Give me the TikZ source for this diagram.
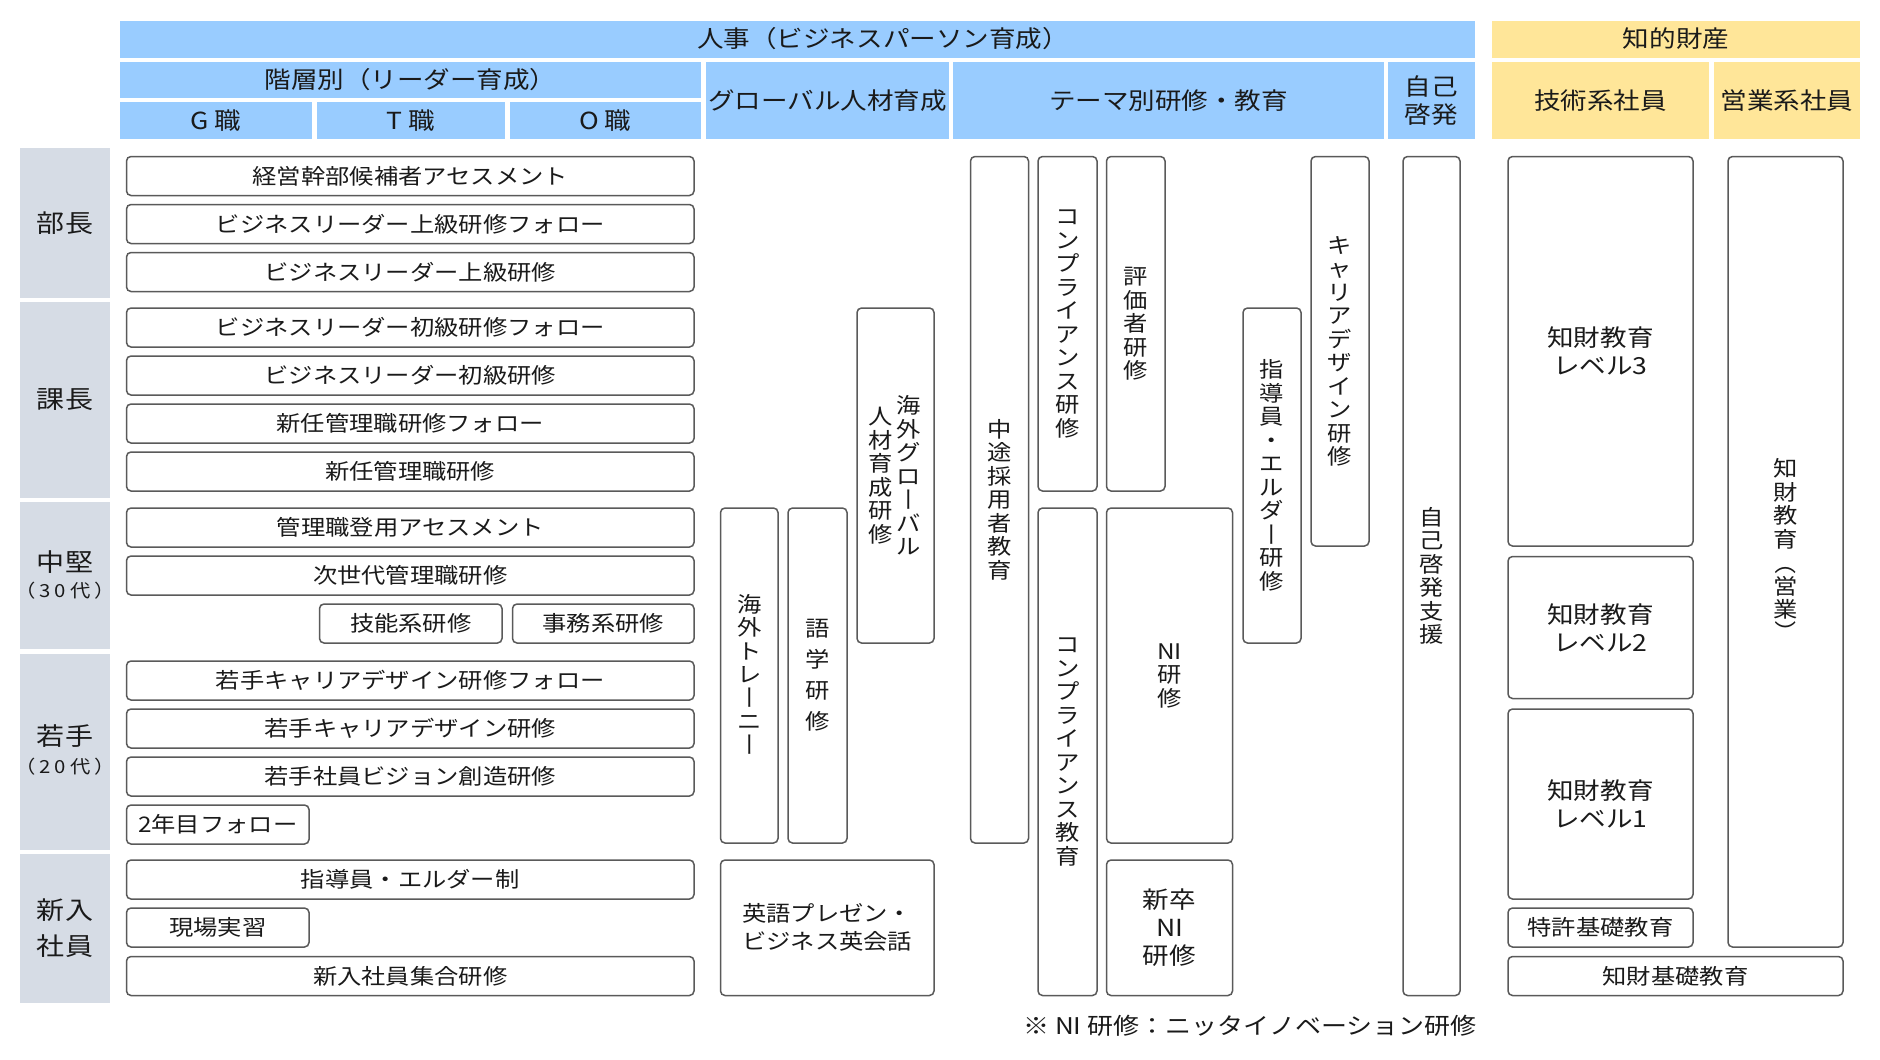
\documentclass[tikz,border=0pt]{standalone}
\usepackage{fontspec}
\setmainfont{Noto Sans CJK JP}[FakeStretch=1.13]
\definecolor{hbc}{HTML}{99CCFF}
\definecolor{hyc}{HTML}{FFE699}
\definecolor{rkc}{HTML}{D6DCE5}
\definecolor{bdc}{HTML}{5A5A5A}
\definecolor{txc}{HTML}{1A1A1A}
\newcommand\fbx{\fontsize{21.5pt}{28pt}\selectfont}
\newcommand\fhd{\fontsize{23.5pt}{28pt}\selectfont}
\newcommand\frk{\fontsize{24.8pt}{36pt}\selectfont}
\newcommand\fsm{\fontsize{18pt}{22pt}\selectfont}
\newcommand\fnt{\fontsize{23pt}{26pt}\selectfont}
\newcommand\fvt{\fontsize{21.5pt}{23.5pt}\selectfont\lineskiplimit=-50pt\lineskip=0pt}
\newcommand\fvtw{\fontsize{21.5pt}{31pt}\selectfont\lineskiplimit=-50pt\lineskip=0pt}
\newcommand\vb{\rotatebox[origin=c]{-90}{\vphantom{漢}ー}}
\newcommand\vlp{\rotatebox[origin=c]{-90}{\vphantom{漢}（}}
\newcommand\vrp{\rotatebox[origin=c]{-90}{\vphantom{漢}）}}
\newcommand\rbx[7]{\node[#2,minimum width={#5-#3},minimum height={#6-#4}] (#1) at ({(#3+#5)/2},{(#4+#6)/2}) {#7};}
\begin{document}
\begin{tikzpicture}[x=1pt,y=-1pt,
  bx/.style={draw=bdc,line width=1.5pt,rounded corners=4.5pt,fill=white,inner sep=0pt,outer sep=0pt,font=\fbx,text=txc,align=center},
  hdb/.style={fill=hbc,inner sep=0pt,outer sep=0pt,font=\fhd,text=txc,align=center},
  hdy/.style={fill=hyc,inner sep=0pt,outer sep=0pt,font=\fhd,text=txc,align=center},
  rk/.style={fill=rkc,inner sep=0pt,outer sep=0pt,font=\frk,text=txc,align=center},
  vt/.style={font=\fvt,align=center,text=txc},
  lbl/.style={inner sep=0pt,text=txc,align=center}]
\useasboundingbox[fill=white] (0,0) rectangle (1880,1060);
% headers
\rbx{hr}{hdb}{120}{20.5}{1475}{57.5}{}
\node[lbl,font=\fhd] (hrt) at (883,39) {人事（ビジネスパーソン育成）};
\rbx{ip}{hdy}{1492}{20.5}{1860}{57.5}{知的財産}
\rbx{lv}{hdb}{120}{62}{701}{98}{階層別（リーダー育成）}
\rbx{g}{hdb}{120}{102}{312}{139}{G 職}
\rbx{t}{hdb}{316.5}{102}{505}{139}{T 職}
\rbx{o}{hdb}{509.5}{102}{701}{139}{O 職}
\rbx{gl}{hdb}{706}{62}{949}{139}{グローバル人材育成}
\rbx{th}{hdb}{953}{62}{1384}{139}{テーマ別研修・教育}
\rbx{sd}{hdb}{1388}{62}{1475}{139}{自己\\啓発}
\rbx{te}{hdy}{1492}{62}{1709}{139}{技術系社員}
\rbx{sa}{hdy}{1714}{62}{1860}{139}{営業系社員}
% rank labels
\rbx{r1}{rk}{20}{148}{110}{297.5}{部長}
\rbx{r2}{rk}{20}{302}{110}{497.5}{課長}
\rbx{r3}{rk}{20}{502}{110}{649}{}
\node[lbl,font=\frk] (r3a) at (65,562) {中堅};
\node[lbl,font=\fsm] (r3b) at (65,591) {（\kern4pt 3\kern4pt 0\kern4pt 代\kern4pt ）};
\rbx{r4}{rk}{20}{654}{110}{849.5}{}
\node[lbl,font=\frk] (r4a) at (65,736) {若手};
\node[lbl,font=\fsm] (r4b) at (65,767) {（\kern4pt 2\kern4pt 0\kern4pt 代\kern4pt ）};
\rbx{r5}{rk}{20}{854}{110}{1003}{新入\\社員}
% hierarchy boxes
\rbx{a1}{bx}{126.5}{156.5}{694}{195.5}{経営幹部候補者アセスメント}
\rbx{a2}{bx}{126.5}{204.5}{694}{243.5}{ビジネスリーダー上級研修フォロー}
\rbx{a3}{bx}{126.5}{252.5}{694}{291.5}{ビジネスリーダー上級研修}
\rbx{a4}{bx}{126.5}{308}{694}{347}{ビジネスリーダー初級研修フォロー}
\rbx{a5}{bx}{126.5}{356}{694}{395}{ビジネスリーダー初級研修}
\rbx{a6}{bx}{126.5}{404}{694}{443}{新任管理職研修フォロー}
\rbx{a7}{bx}{126.5}{452}{694}{491}{新任管理職研修}
\rbx{a8}{bx}{126.5}{508}{694}{547}{管理職登用アセスメント}
\rbx{a9}{bx}{126.5}{556}{694}{595}{次世代管理職研修}
\rbx{a10}{bx}{319.5}{604}{502}{643}{技能系研修}
\rbx{a11}{bx}{512.5}{604}{694}{643}{事務系研修}
\rbx{b1}{bx}{126.5}{661}{694}{700}{若手キャリアデザイン研修フォロー}
\rbx{b2}{bx}{126.5}{709}{694}{748}{若手キャリアデザイン研修}
\rbx{b3}{bx}{126.5}{757}{694}{796}{若手社員ビジョン創造研修}
\rbx{b4}{bx}{126.5}{805}{309}{844}{2年目フォロー}
\rbx{c1}{bx}{126.5}{860}{694}{899}{指導員・エルダー制}
\rbx{c2}{bx}{126.5}{908}{309}{947}{現場実習}
\rbx{c3}{bx}{126.5}{956.5}{694}{995.5}{新入社員集合研修}
% global
\rbx{gg}{bx}{857}{308}{934}{643}{}
\node[vt] (gga) at (909,475.5) {海\\外\\グ\\ロ\\\vb\\バ\\ル};
\node[vt] (ggb) at (881,475.5) {人\\材\\育\\成\\研\\修};
\rbx{gt}{bx,vt}{720.5}{508}{778}{843}{海\\外\\ト\\レ\\\vb\\ニ\\\vb}
\rbx{gk}{bx,vt,font=\fvtw}{788}{508}{847}{843}{語\\学\\研\\修}
\rbx{ge}{bx}{720.5}{860}{934}{995.5}{英語プレゼン・\\ビジネス英会話}
% theme
\rbx{m1}{bx,vt}{970.5}{156.5}{1028.5}{843}{中\\途\\採\\用\\者\\教\\育}
\rbx{m2}{bx,vt}{1038}{156.5}{1097}{491}{コ\\ン\\プ\\ラ\\イ\\ア\\ン\\ス\\研\\修}
\rbx{m3}{bx,vt}{1106.5}{156.5}{1165}{491}{評\\価\\者\\研\\修}
\rbx{m4}{bx,vt}{1243}{308}{1301}{643}{指\\導\\員\\・\\エ\\ル\\ダ\\\vb\\研\\修}
\rbx{m5}{bx,vt}{1311}{156.5}{1369}{546}{キ\\ャ\\リ\\ア\\デ\\ザ\\イ\\ン\\研\\修}
\rbx{m6}{bx,vt}{1038}{508}{1097}{995.5}{コ\\ン\\プ\\ラ\\イ\\ア\\ン\\ス\\教\\育}
\rbx{m7}{bx,vt}{1106.5}{508}{1232.5}{843}{NI\\研\\修}
\rbx{m8}{bx,font=\fhd}{1106.5}{860}{1232.5}{995.5}{新卒\\NI\\研修}
\rbx{m9}{bx,vt}{1403}{156.5}{1460}{995.5}{自\\己\\啓\\発\\支\\援}
% intellectual property
\rbx{p3}{bx,font=\fhd}{1508}{156.5}{1693}{546}{知財教育\\レベル3}
\rbx{p2}{bx,font=\fhd}{1508}{556.5}{1693}{698.5}{知財教育\\レベル2}
\rbx{p1}{bx,font=\fhd}{1508}{709}{1693}{899}{知財教育\\レベル1}
\rbx{pt}{bx}{1508}{908}{1693}{947}{特許基礎教育}
\rbx{ps}{bx,vt}{1728}{156.5}{1843}{947}{知\\財\\教\\育\\\vlp\\営\\業\\\vrp}
\rbx{pb}{bx}{1508}{956.5}{1843}{995.5}{知財基礎教育}
% footnote
\node[lbl,font=\fnt] (fn) at (1250,1026) {※ NI 研修：ニッタイノベーション研修};
\end{tikzpicture}
\end{document}
